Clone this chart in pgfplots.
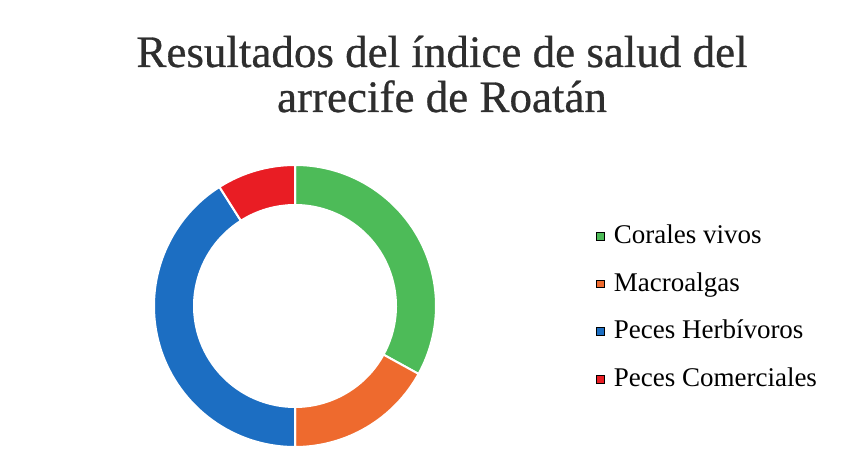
\documentclass[border=0pt]{standalone}
\usepackage{fontspec}
\setmainfont{Liberation Serif}
\newfontfamily\titulo{Liberation Serif}[FakeBold=0.6]
\usepackage{pgfplots}
\usepackage{pgfplotstable}
\pgfplotsset{compat=1.18}

\definecolor{verde}{RGB}{77,187,88}
\definecolor{naranja}{RGB}{238,106,46}
\definecolor{azul}{RGB}{28,110,194}
\definecolor{rojo}{RGB}{233,29,36}

% porcentaje de cada componente, en el orden del anillo (horario desde arriba)
\pgfplotstableread{
valor color
33 verde
17 naranja
41 azul
9  rojo
}\datos

\begin{document}
\begin{tikzpicture}
\begin{axis}[
    scale only axis, width=429.5pt, height=236pt,
    xmin=0, xmax=859, ymin=0, ymax=472,
    hide axis, clip=false,
    legend image code/.code={\fill[#1] (0pt,-1.9pt) rectangle (3.8pt,1.9pt);},
    legend style={at={(axis cs:590,253)}, anchor=north west, draw=none, fill=none,
      font=\fontsize{13.5}{16}\selectfont, row sep=10.8pt,
      nodes={inner sep=0pt, text height=10pt, text depth=3pt},
      /tikz/every odd column/.append style={column sep=4.5pt}},
    legend cell align=left,
]
  \path (axis cs:0,0) rectangle (axis cs:859,472);
  \pgfplotstablegetrowsof{\datos}
  \pgfmathtruncatemacro\nfilas{\pgfplotsretval-1}
  \def\acum{0}
  \pgfplotsforeachungrouped \i in {0,...,\nfilas}{
    \pgfplotstablegetelem{\i}{valor}\of\datos \let\v\pgfplotsretval
    \pgfplotstablegetelem{\i}{color}\of\datos \let\c\pgfplotsretval
    \pgfmathsetmacro\ai{90-3.6*\acum}
    \pgfmathsetmacro\af{90-3.6*(\acum+\v)}
    \edef\cmd{\noexpand\fill[\c, draw=white, line width=1pt, shift={(axis cs:295,166)}]
      (\ai:70.5pt) arc[start angle=\ai, end angle=\af, radius=70.5pt]
      -- (\af:50.5pt) arc[start angle=\af, end angle=\ai, radius=50.5pt] -- cycle;}
    \cmd
    \pgfmathsetmacro\acum{\acum+\v}
  }
  \addlegendimage{fill=verde}
  \addlegendentry{Corales vivos}
  \addlegendimage{fill=naranja}
  \addlegendentry{Macroalgas}
  \addlegendimage{fill=azul}
  \addlegendentry{Peces Herbívoros}
  \addlegendimage{fill=rojo}
  \addlegendentry{Peces Comerciales}
  \node[anchor=base, inner sep=0pt, text=black!82,
        font=\titulo\fontsize{22.5}{26}\selectfont] at (axis cs:442,405)
    {Resultados del índice de salud del};
  \node[anchor=base, inner sep=0pt, text=black!82,
        font=\titulo\fontsize{22.5}{26}\selectfont] at (axis cs:442,360)
    {arrecife de Roatán};
\end{axis}
\end{tikzpicture}
\end{document}
